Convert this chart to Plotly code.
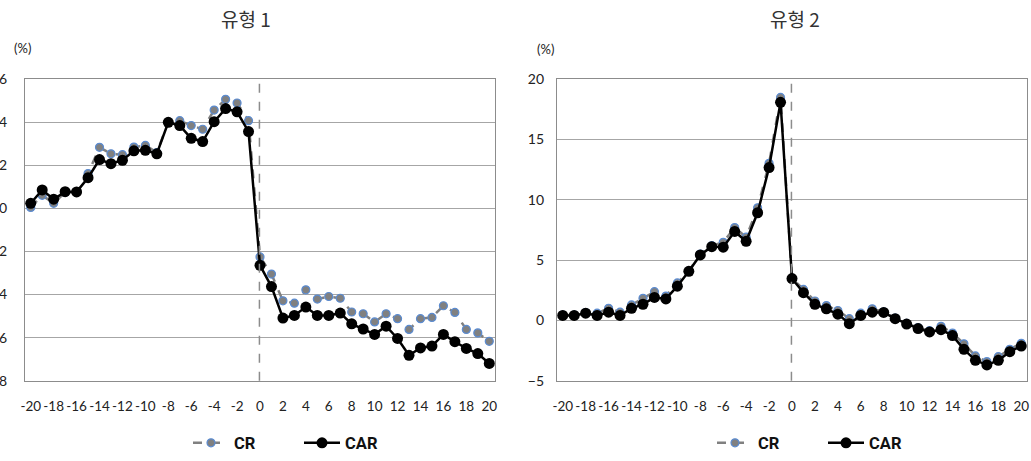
import plotly.graph_objects as go

# Event window (days relative to event)
lags = list(range(-20, 21))

# 유형 1 : CR / CAR (%)
cr_type1 = [0.05, 0.61, 0.24, 0.75, 0.77, 1.62, 2.84, 2.54, 2.50, 2.85, 2.93,
            2.60, 4.00, 4.08, 3.85, 3.68, 4.57, 5.07, 4.90, 4.08,
            -2.25,
            -3.05, -4.29, -4.40, -3.78, -4.21, -4.09, -4.17, -4.81, -4.89, -5.27,
            -4.89, -5.12, -5.62, -5.12, -5.06, -4.52, -4.83, -5.62, -5.78, -6.17]
car_type1 = [0.24, 0.86, 0.43, 0.78, 0.77, 1.43, 2.27, 2.08, 2.24, 2.68, 2.70,
             2.54, 4.00, 3.85, 3.26, 3.11, 4.03, 4.64, 4.49, 3.57,
             -2.64,
             -3.63, -5.09, -4.97, -4.58, -4.97, -4.97, -4.86, -5.36, -5.60, -5.85,
             -5.47, -6.04, -6.82, -6.48, -6.39, -5.85, -6.19, -6.50, -6.74, -7.20]

# 유형 2 : CR / CAR (%)
cr_type2 = [0.45, 0.45, 0.65, 0.60, 1.00, 0.68, 1.28, 1.83, 2.38, 2.02, 3.11,
            4.10, 5.50, 6.20, 6.48, 7.70, 6.90, 9.34, 13.03, 18.50,
            3.50,
            2.57, 1.61, 1.23, 0.82, 0.14, 0.60, 0.96, 0.70, 0.20, -0.25,
            -0.60, -0.85, -0.49, -1.05, -1.94, -2.95, -3.42, -3.01, -2.40, -1.90]
car_type2 = [0.41, 0.41, 0.60, 0.41, 0.68, 0.41, 1.00, 1.34, 1.91, 1.78, 2.84,
             4.07, 5.43, 6.12, 6.07, 7.38, 6.56, 8.93, 12.68, 18.09,
             3.47,
             2.30, 1.34, 0.96, 0.52, -0.27, 0.41, 0.68, 0.66, 0.14, -0.30,
             -0.68, -0.96, -0.77, -1.26, -2.40, -3.31, -3.69, -3.31, -2.60, -2.13]

x_ticks = list(range(-20, 21, 2))
y_ticks_1 = [-8, -6, -4, -2, 0, 2, 4, 6]
y_ticks_2 = [-5, 0, 5, 10, 15, 20]

W, H = 1031, 461
GRID = "#a6a6a6"
CR_GRAY = "#808080"
CR_EDGE = "#5b8bd0"
TICK_FONT = dict(family="Lato, Open Sans, sans-serif", size=14, color="#222222")
XTICK_FONT = dict(family="Lato, Open Sans, sans-serif", size=13.5, color="#222222")

fig = go.Figure()


def add_pair(cr, car, xa, ya, legend):
    fig.add_trace(go.Scatter(
        x=lags, y=cr, name="CR", mode="lines+markers", xaxis=xa, yaxis=ya,
        legend=legend,
        line=dict(color=CR_GRAY, width=2.5, dash="dash"),
        marker=dict(size=8, color=CR_GRAY, line=dict(color=CR_EDGE, width=1.2)),
    ))
    fig.add_trace(go.Scatter(
        x=lags, y=car, name="CAR", mode="lines+markers", xaxis=xa, yaxis=ya,
        legend=legend,
        line=dict(color="#000000", width=2.5),
        marker=dict(size=11, color="#000000"),
    ))


add_pair(cr_type1, car_type1, "x", "y", "legend")
add_pair(cr_type2, car_type2, "x2", "y2", "legend2")

y_dom = [1 - 384 / H, 1 - 80 / H]

xaxis_common = dict(
    range=[-20.5, 20.5], tickvals=x_ticks, ticktext=[str(v) for v in x_ticks],
    tickangle=0, showgrid=False, zeroline=False, showline=True,
    linecolor="#8c8c8c", linewidth=1.3, mirror=True, ticks="",
    tickfont=XTICK_FONT, ticklabelstandoff=13, automargin=False,
)
yaxis_common = dict(
    showgrid=True, gridcolor=GRID, gridwidth=1.3, zeroline=False,
    showline=True, linecolor="#8c8c8c", linewidth=1.3, mirror=True,
    ticks="", tickfont=TICK_FONT, automargin=False,
)

legend_font = dict(family="Roboto, sans-serif", size=16.5, color="#111111", weight="bold")

fig.update_layout(
    width=W, height=H,
    margin=dict(l=0, r=0, t=0, b=0),
    paper_bgcolor="white", plot_bgcolor="white",
    xaxis=dict(domain=[25 / W, 495 / W], anchor="y", **xaxis_common),
    yaxis=dict(domain=y_dom, anchor="x", range=[-8, 6], tickvals=y_ticks_1,
               ticklabelstandoff=14, **yaxis_common),
    xaxis2=dict(domain=[557 / W, 1027 / W], anchor="y2", **xaxis_common),
    yaxis2=dict(domain=y_dom, anchor="x2", range=[-5, 20], tickvals=y_ticks_2,
                ticklabelstandoff=9, **yaxis_common),
    legend=dict(orientation="h", x=188 / W, y=1 - 447 / H, xanchor="left",
                yanchor="middle", entrywidth=60, entrywidthmode="pixels",
                itemwidth=36, font=legend_font, bgcolor="rgba(0,0,0,0)"),
    legend2=dict(orientation="h", x=712 / W, y=1 - 447 / H, xanchor="left",
                 yanchor="middle", entrywidth=60, entrywidthmode="pixels",
                 itemwidth=36, font=legend_font, bgcolor="rgba(0,0,0,0)"),
    showlegend=True,
)

# event-day reference lines
for xr, yr in (("x", "y"), ("x2", "y2")):
    fig.add_shape(type="line", xref=xr, yref=f"{yr} domain", x0=-0.05, x1=-0.05,
                  y0=0, y1=1, line=dict(color="#8c8c8c", width=1.5, dash="dash"))

title_font = dict(family="Noto Sans CJK KR, sans-serif", size=19, color="#333333")
fig.add_annotation(text="유형 1", x=246 / W, y=1 - 19 / H, xref="paper", yref="paper",
                   showarrow=False, font=title_font, xanchor="center", yanchor="middle")
fig.add_annotation(text="유형 2", x=795 / W, y=1 - 19 / H, xref="paper", yref="paper",
                   showarrow=False, font=title_font, xanchor="center", yanchor="middle")

unit_font = dict(family="Lato, Open Sans, sans-serif", size=13, color="#222222")
fig.add_annotation(text="(%)", x=22 / W, y=1 - 48 / H, xref="paper", yref="paper",
                   showarrow=False, font=unit_font, xanchor="center", yanchor="middle")
fig.add_annotation(text="(%)", x=545 / W, y=1 - 49 / H, xref="paper", yref="paper",
                   showarrow=False, font=unit_font, xanchor="center", yanchor="middle")

fig.write_html("out.html")
